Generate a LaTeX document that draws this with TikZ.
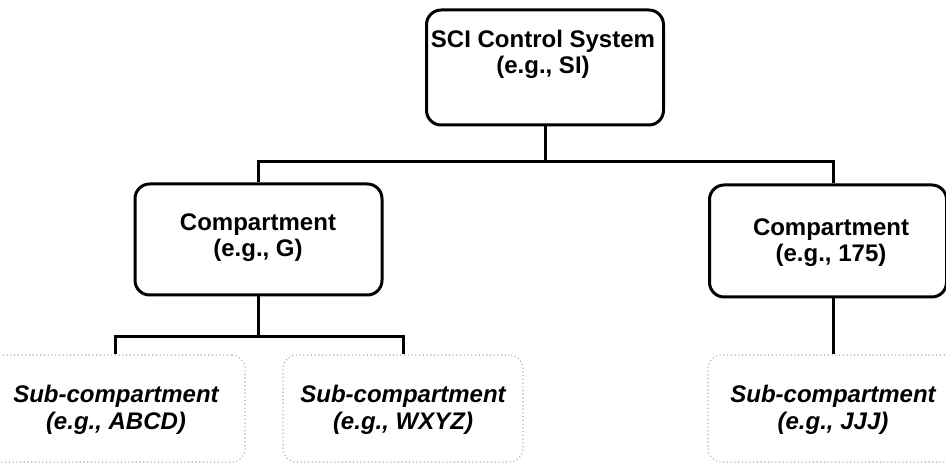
\documentclass[tikz,border=0pt]{standalone}
\usepackage{fontspec}
\setmainfont{Liberation Sans}
\begin{document}
\begin{tikzpicture}[x=0.75pt,y=-0.75pt,
  box/.style={draw, line width=2.25pt, rounded corners=11pt},
  subbox/.style={draw=black!35, dotted, line width=0.8pt, rounded corners=10pt},
  conn/.style={line width=2.25pt},
  lbl/.style={align=center, font=\fontsize{18}{19.5}\selectfont\bfseries, inner sep=0pt},
  slbl/.style={align=center, font=\fontsize{18}{20}\selectfont\bfseries\itshape, inner sep=0pt}]
\useasboundingbox (0,0) rectangle (946,466);
% main boxes
\node[box, minimum width=177.75pt, minimum height=86.25pt] (top) at (545,67.5) {};
\node[lbl] (toptext) at (543,54) {SCI Control System\\(e.g., SI)};
\node[box, minimum width=185.25pt, minimum height=83.25pt] (cl) at (258.5,239.5) {};
\node[lbl] (cltext) at (258,238) {Compartment\\(e.g., G)};
\node[box, minimum width=177.75pt, minimum height=84pt] (cr) at (828,241) {};
\node[lbl] (crtext) at (831,243) {Compartment\\(e.g., 175)};
% faint sub boxes
\node[subbox, minimum width=195pt, minimum height=80.25pt] (sa) at (115,408.5) {};
\node[subbox, minimum width=180pt, minimum height=80.25pt] (sb) at (403,408.5) {};
\node[subbox, minimum width=187.5pt, minimum height=80.25pt] (sc) at (833,408.5) {};
\node[slbl] (satext) at (116,410) {Sub-compartment\\(e.g., ABCD)};
\node[slbl] (sbtext) at (403,410) {Sub-compartment\\(e.g., WXYZ)};
\node[slbl] (sctext) at (833,410) {Sub-compartment\\(e.g., JJJ)};
% connectors
\draw[conn] (top.south) -- ++(0,35) coordinate (hub);
\draw[conn] (cl.north) |- (hub) -| (sc.north |- cr.north);
\draw[conn] (cl.south) -- ++(0,40) coordinate (hub2);
\draw[conn] (sa.north) |- (hub2) -| (sb.north);
\draw[conn] (sc.north |- cr.south) -- (sc.north);
\end{tikzpicture}
\end{document}
